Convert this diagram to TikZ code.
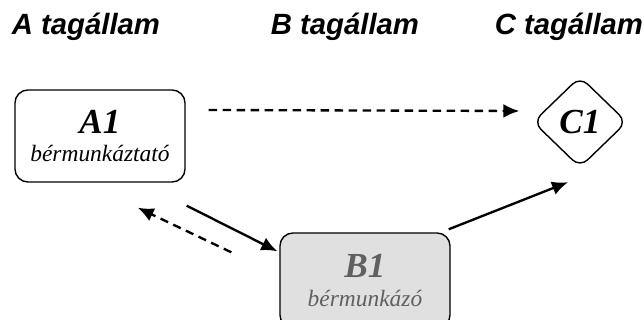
\documentclass[tikz,border=0pt]{standalone}
\usepackage{fontspec}
\newfontfamily\headfont{Liberation Sans}
\newfontfamily\boxfont{Liberation Serif}
\usetikzlibrary{positioning,shapes.geometric,arrows.meta}

\definecolor{boxgray}{HTML}{E0E0E0}
\definecolor{textgray}{HTML}{606060}

\tikzset{
  head/.style={font=\headfont\bfseries\itshape\fontsize{25}{28}\selectfont},
  partybox/.style={draw,line width=1.2pt,rounded corners=11pt,minimum width=5.1cm,minimum height=2.76cm,align=center,inner sep=0pt},
  partydia/.style={diamond,draw,line width=1.2pt,rounded corners=9pt,minimum width=2.82cm,minimum height=2.73cm,inner sep=0pt},
  solidarrow/.style={line width=2pt,-{Latex[length=0.48cm,width=0.42cm]}},
  dasharrow/.style={solidarrow,dash pattern=on 0.25cm off 0.17cm},
}
\newcommand{\boxtitle}[1]{{\boxfont\bfseries\itshape\fontsize{30}{32}\selectfont #1}}
\newcommand{\boxrole}[1]{{\boxfont\itshape\fontsize{20}{22}\selectfont #1}}

\begin{document}
\begin{tikzpicture}[x=0.03cm,y=-0.03cm]
\useasboundingbox (0,0) rectangle (644,320);
\clip (0,0) rectangle (644,320);

% headers
\node[head] (hA) at (86,27) {A tagállam};
\node[head] (hB) at (345,27) {B tagállam};
\node[head] (hC) at (569,27) {C tagállam};

% parties
\node[partybox] (A1) at (100,136) {\boxtitle{A1}\\[9pt]\boxrole{bérmunkáztató}};
\node[partybox,fill=boxgray,text=textgray,minimum height=2.85cm] (B1) at (365,280.5) {\boxtitle{B1}\\[9pt]\boxrole{bérmunkázó}};
\node[partydia] (C1) at (580,122) {\boxtitle{C1}};

% flows
\draw[dasharrow] ([shift={(23,-26)}]A1.east) -- ([shift={(-13,-11)}]C1.west);
\draw[solidarrow] ([shift={(1,23)}]A1.south east) -- ([shift={(-2,19)}]B1.north west);
\draw[dasharrow] ([shift={(-48,20)}]B1.north west) -- ([shift={(-48,25)}]A1.south east);
\draw[solidarrow] ([shift={(-2,-3)}]B1.north east) -- ([shift={(-12,14)}]C1.south);
\end{tikzpicture}
\end{document}
